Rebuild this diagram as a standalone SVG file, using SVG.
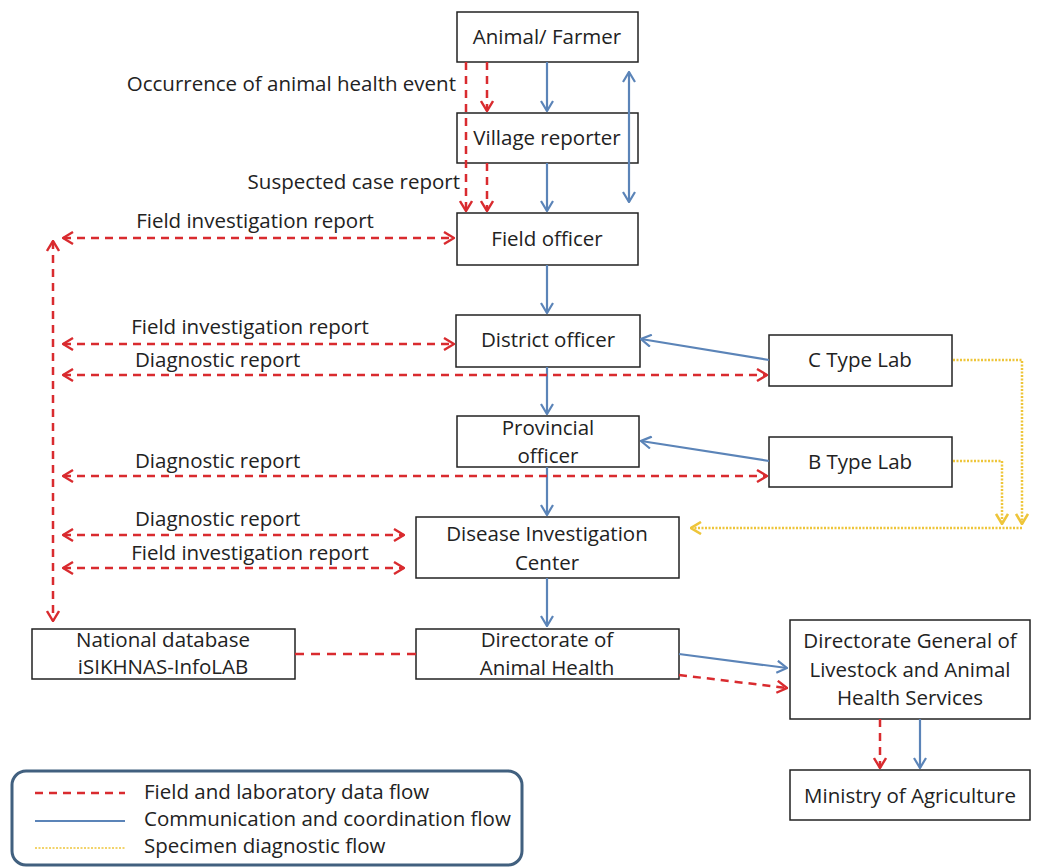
<svg xmlns="http://www.w3.org/2000/svg" width="1041" height="868" viewBox="0 0 1041 868">
<style>
text{font-family:"Open Sans","Liberation Sans",sans-serif;font-size:20.5px;fill:#222}
.c{text-anchor:middle}
.r{text-anchor:end}
.box{fill:#fff;stroke:#222;stroke-width:1.5}
.red{stroke:#d92b2f;stroke-width:2.5;stroke-dasharray:8 6;fill:none}
.blue{stroke:#5b84b8;stroke-width:2.2;fill:none}
.yel{stroke:#eec53a;stroke-width:2.5;stroke-dasharray:2 1.5;fill:none}
</style>
<defs>
<marker id="ar" markerUnits="userSpaceOnUse" viewBox="0 0 12 14" refX="11" refY="7" markerWidth="12" markerHeight="14" orient="auto-start-reverse"><path d="M1,1 L11,7 L1,13" fill="none" stroke="#d92b2f" stroke-width="2.4"/></marker>
<marker id="ab" markerUnits="userSpaceOnUse" viewBox="0 0 12 14" refX="11" refY="7" markerWidth="12" markerHeight="14" orient="auto-start-reverse"><path d="M1,1 L11,7 L1,13" fill="none" stroke="#5b84b8" stroke-width="2.2"/></marker>
<marker id="ay" markerUnits="userSpaceOnUse" viewBox="0 0 12 14" refX="11" refY="7" markerWidth="12" markerHeight="14" orient="auto-start-reverse"><path d="M1,1 L11,7 L1,13" fill="none" stroke="#eec53a" stroke-width="2.6"/></marker>
</defs>
<rect width="1041" height="868" fill="#fff"/>

<g id="animal"><rect class="box" x="457" y="12" width="181" height="50"/><text class="c" x="547" y="44">Animal/ Farmer</text></g>
<g id="village"><rect class="box" x="457" y="113" width="181" height="50"/><text class="c" x="547" y="145">Village reporter</text></g>
<g id="field"><rect class="box" x="457" y="213" width="181" height="52"/><text class="c" x="547" y="246">Field officer</text></g>
<g id="district"><rect class="box" x="456" y="315" width="184" height="52"/><text class="c" x="548" y="347">District officer</text></g>
<g id="clab"><rect class="box" x="769" y="335" width="183" height="51"/><text class="c" x="860" y="367">C Type Lab</text></g>
<g id="provincial"><rect class="box" x="457" y="416" width="182" height="51"/><text class="c" x="548" y="435">Provincial</text><text class="c" x="548" y="463">officer</text></g>
<g id="blab"><rect class="box" x="769" y="437" width="183" height="50"/><text class="c" x="860" y="469">B Type Lab</text></g>
<g id="dic"><rect class="box" x="416" y="517" width="263" height="61"/><text class="c" x="547" y="541">Disease Investigation</text><text class="c" x="547" y="570">Center</text></g>
<g id="natdb"><rect class="box" x="32" y="629" width="263" height="50"/><text class="c" x="163" y="647">National database</text><text class="c" x="163" y="674">iSIKHNAS-InfoLAB</text></g>
<g id="dah"><rect class="box" x="416" y="629" width="263" height="50"/><text class="c" x="547" y="647">Directorate of</text><text class="c" x="547" y="675">Animal Health</text></g>
<g id="dg"><rect class="box" x="790" y="620" width="240" height="99"/><text class="c" x="910" y="648">Directorate General of</text><text class="c" x="910" y="677">Livestock and Animal</text><text class="c" x="910" y="705">Health Services</text></g>
<g id="ministry"><rect class="box" x="790" y="770" width="240" height="50"/><text class="c" x="910" y="803">Ministry of Agriculture</text></g>

<g id="connectors">
<path class="red" d="M466,62 V211" marker-end="url(#ar)"/>
<path class="red" d="M487,62 V111" marker-end="url(#ar)"/>
<path class="red" d="M487,163 V211" marker-end="url(#ar)"/>
<path class="blue" d="M547,62 V111" marker-end="url(#ab)"/>
<path class="blue" d="M547,163 V211" marker-end="url(#ab)"/>
<path class="blue" d="M629,72 V202" marker-start="url(#ab)" marker-end="url(#ab)"/>
<path class="blue" d="M547,265 V313" marker-end="url(#ab)"/>
<path class="blue" d="M547,367 V414" marker-end="url(#ab)"/>
<path class="blue" d="M547,467 V515" marker-end="url(#ab)"/>
<path class="blue" d="M547,578 V626" marker-end="url(#ab)"/>
<path class="red" d="M63,238 H454" marker-start="url(#ar)" marker-end="url(#ar)"/>
<path class="red" d="M53,241 V621" marker-start="url(#ar)" marker-end="url(#ar)"/>
<path class="red" d="M63,344 H454" marker-start="url(#ar)" marker-end="url(#ar)"/>
<path class="red" d="M63,375 H767" marker-start="url(#ar)" marker-end="url(#ar)"/>
<path class="red" d="M63,476 H767" marker-start="url(#ar)" marker-end="url(#ar)"/>
<path class="red" d="M63,535 H404" marker-start="url(#ar)" marker-end="url(#ar)"/>
<path class="red" d="M63,568 H404" marker-start="url(#ar)" marker-end="url(#ar)"/>
<path class="blue" d="M769,360 L641,339" marker-end="url(#ab)"/>
<path class="blue" d="M769,461 L641,441" marker-end="url(#ab)"/>
<path class="yel" d="M953,360 H1022 V524" marker-end="url(#ay)"/>
<path class="yel" d="M953,461 H1002 V524" marker-end="url(#ay)"/>
<path class="yel" d="M1022,528 H691" marker-end="url(#ay)"/>
<path class="red" d="M295,654 H416" style="stroke-dasharray:9 7"/>
<path class="blue" d="M679,654 L787,668" marker-end="url(#ab)"/>
<path class="red" d="M679,675 L787,688" marker-end="url(#ar)"/>
<path class="red" d="M880,719 V768" marker-end="url(#ar)"/>
<path class="blue" d="M920,719 V768" marker-end="url(#ab)"/>
</g>

<g id="labels">
<text class="r" x="456" y="91">Occurrence of animal health event</text>
<text class="r" x="460" y="189">Suspected case report</text>
<text class="c" x="255" y="228">Field investigation report</text>
<text class="c" x="250" y="334">Field investigation report</text>
<text x="135" y="367">Diagnostic report</text>
<text x="135" y="468">Diagnostic report</text>
<text x="135" y="526">Diagnostic report</text>
<text class="c" x="250" y="560">Field investigation report</text>
</g>

<g id="legend">
<rect x="12" y="771" width="510" height="94" rx="14" fill="#fff" stroke="#41607f" stroke-width="3"/>
<path class="red" d="M35,793 H125"/>
<path class="blue" d="M35,821 H125"/>
<path class="yel" d="M35,848 H125" style="stroke-width:1.6"/>
<text x="144" y="799">Field and laboratory data flow</text>
<text x="144" y="826">Communication and coordination flow</text>
<text x="144" y="853">Specimen diagnostic flow</text>
</g>
</svg>
